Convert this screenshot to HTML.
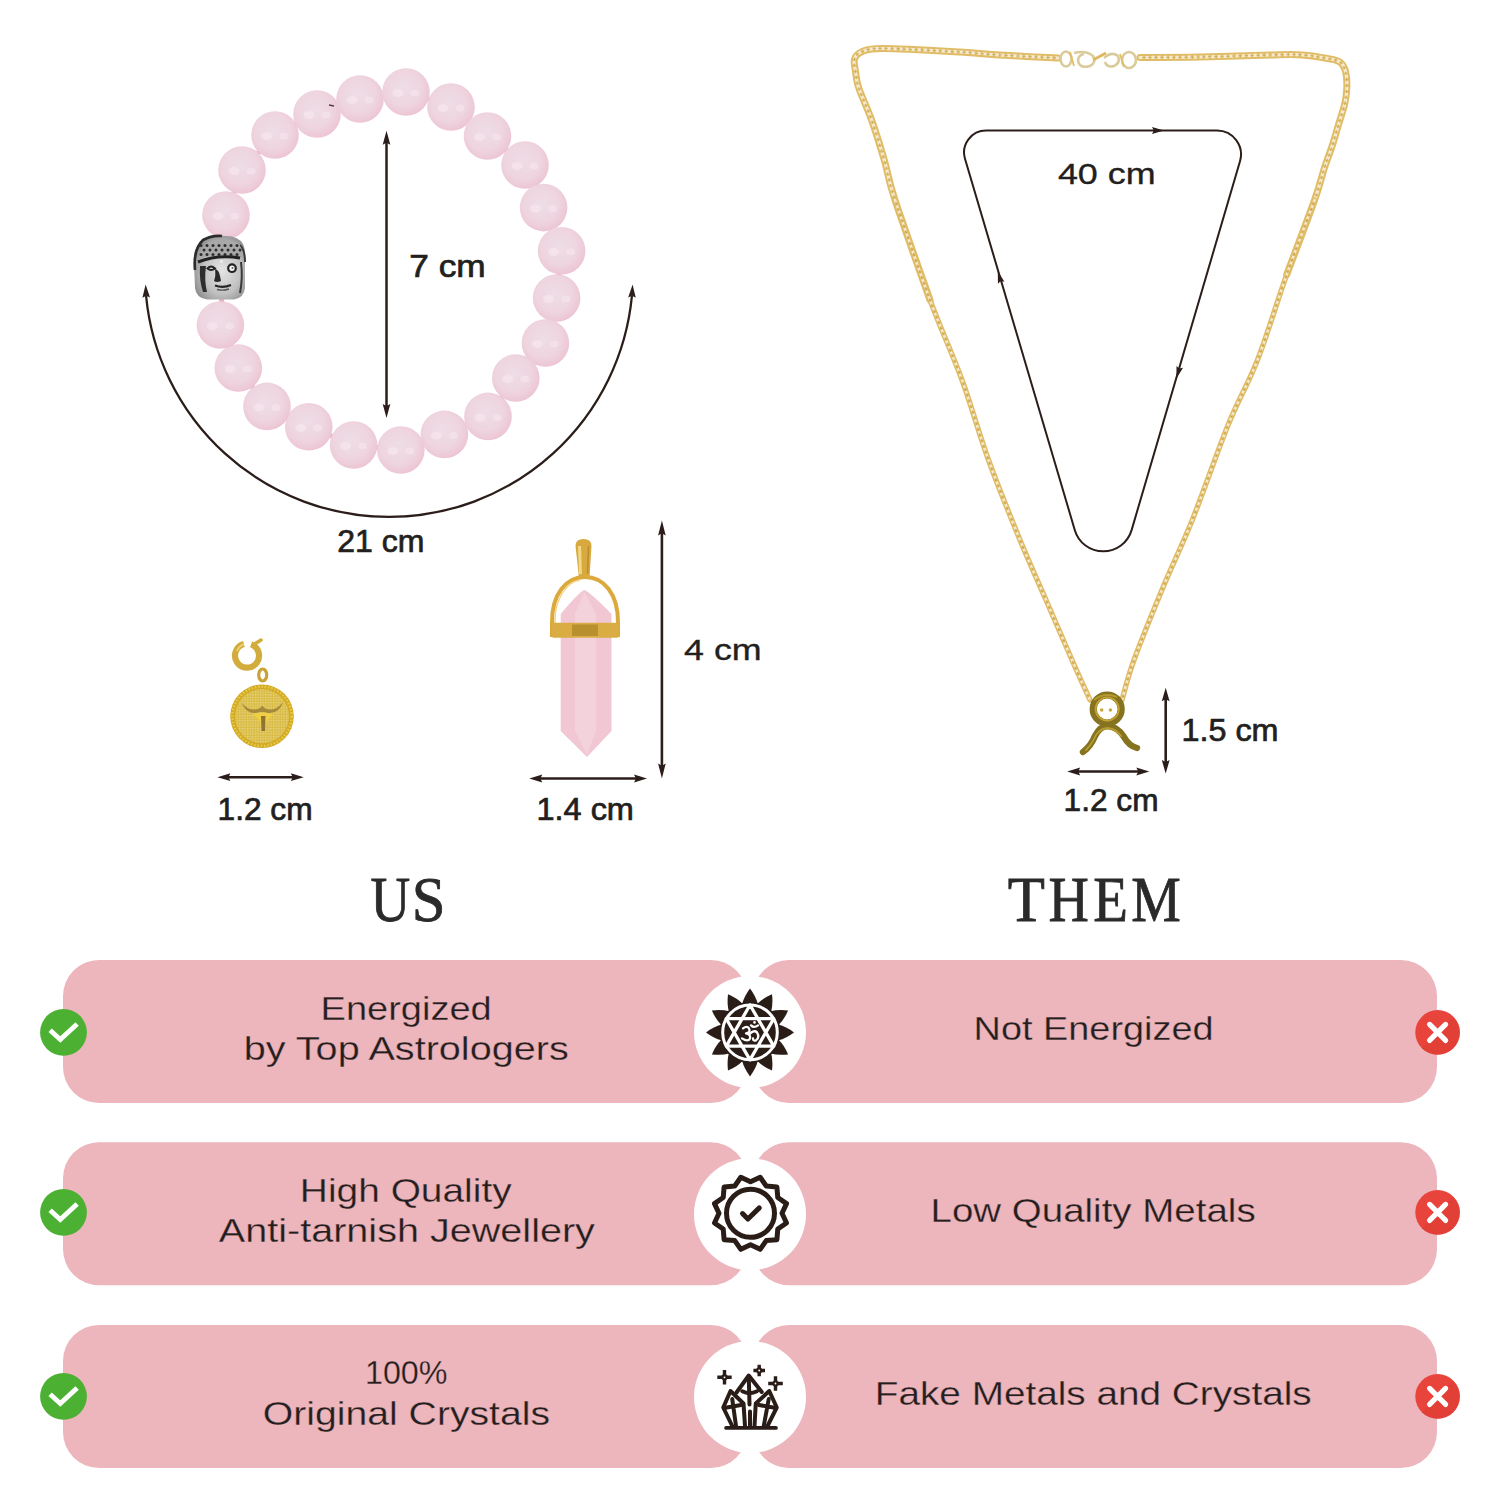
<!DOCTYPE html>
<html><head><meta charset="utf-8">
<style>
html,body{margin:0;padding:0;background:#fff;}
body{width:1500px;height:1500px;position:relative;overflow:hidden;font-family:"Liberation Sans",sans-serif;}
svg{position:absolute;left:0;top:0;}
</style></head><body>
<svg width="1500" height="1500" viewBox="0 0 1500 1500">
<defs>
<radialGradient id="bead" cx="45%" cy="42%" r="62%">
<stop offset="0" stop-color="#EEDDE6"/>
<stop offset="0.6" stop-color="#EED5E0"/>
<stop offset="0.9" stop-color="#EDC7D6"/>
<stop offset="1" stop-color="#EABCCD"/>
</radialGradient>
</defs>
<path d="M226,215 L242,170 L275,135 L317,114 L360,99 L406,92 L451,107 L487.5,136 L525,165 L543.6,207.6 L561.6,250.8 L556.6,298 L545.4,343 L515.8,378 L488,416.4 L444.4,434.4 L400.8,450 L353.6,445 L308.8,426.8 L267,406.4 L238.3,368 L220.4,325 Z" fill="none" stroke="#E9AFC5" stroke-width="5"/>
<circle cx="226" cy="215" r="23.8" fill="url(#bead)"/>
<ellipse cx="218" cy="216" rx="5.5" ry="4" fill="#F6E6EE" opacity="0.75"/>
<ellipse cx="235" cy="216" rx="4.5" ry="3.5" fill="#F6E6EE" opacity="0.6"/>
<circle cx="242" cy="170" r="23.8" fill="url(#bead)"/>
<ellipse cx="234" cy="171" rx="5.5" ry="4" fill="#F6E6EE" opacity="0.75"/>
<ellipse cx="251" cy="171" rx="4.5" ry="3.5" fill="#F6E6EE" opacity="0.6"/>
<circle cx="275" cy="135" r="23.8" fill="url(#bead)"/>
<ellipse cx="267" cy="136" rx="5.5" ry="4" fill="#F6E6EE" opacity="0.75"/>
<ellipse cx="284" cy="136" rx="4.5" ry="3.5" fill="#F6E6EE" opacity="0.6"/>
<circle cx="317" cy="114" r="23.8" fill="url(#bead)"/>
<ellipse cx="309" cy="115" rx="5.5" ry="4" fill="#F6E6EE" opacity="0.75"/>
<ellipse cx="326" cy="115" rx="4.5" ry="3.5" fill="#F6E6EE" opacity="0.6"/>
<circle cx="360" cy="99" r="23.8" fill="url(#bead)"/>
<ellipse cx="352" cy="100" rx="5.5" ry="4" fill="#F6E6EE" opacity="0.75"/>
<ellipse cx="369" cy="100" rx="4.5" ry="3.5" fill="#F6E6EE" opacity="0.6"/>
<circle cx="406" cy="92" r="23.8" fill="url(#bead)"/>
<ellipse cx="398" cy="93" rx="5.5" ry="4" fill="#F6E6EE" opacity="0.75"/>
<ellipse cx="415" cy="93" rx="4.5" ry="3.5" fill="#F6E6EE" opacity="0.6"/>
<circle cx="451" cy="107" r="23.8" fill="url(#bead)"/>
<ellipse cx="443" cy="108" rx="5.5" ry="4" fill="#F6E6EE" opacity="0.75"/>
<ellipse cx="460" cy="108" rx="4.5" ry="3.5" fill="#F6E6EE" opacity="0.6"/>
<circle cx="487.5" cy="136" r="23.8" fill="url(#bead)"/>
<ellipse cx="479.5" cy="137" rx="5.5" ry="4" fill="#F6E6EE" opacity="0.75"/>
<ellipse cx="496.5" cy="137" rx="4.5" ry="3.5" fill="#F6E6EE" opacity="0.6"/>
<circle cx="525" cy="165" r="23.8" fill="url(#bead)"/>
<ellipse cx="517" cy="166" rx="5.5" ry="4" fill="#F6E6EE" opacity="0.75"/>
<ellipse cx="534" cy="166" rx="4.5" ry="3.5" fill="#F6E6EE" opacity="0.6"/>
<circle cx="543.6" cy="207.6" r="23.8" fill="url(#bead)"/>
<ellipse cx="535.6" cy="208.6" rx="5.5" ry="4" fill="#F6E6EE" opacity="0.75"/>
<ellipse cx="552.6" cy="208.6" rx="4.5" ry="3.5" fill="#F6E6EE" opacity="0.6"/>
<circle cx="561.6" cy="250.8" r="23.8" fill="url(#bead)"/>
<ellipse cx="553.6" cy="251.8" rx="5.5" ry="4" fill="#F6E6EE" opacity="0.75"/>
<ellipse cx="570.6" cy="251.8" rx="4.5" ry="3.5" fill="#F6E6EE" opacity="0.6"/>
<circle cx="556.6" cy="298" r="23.8" fill="url(#bead)"/>
<ellipse cx="548.6" cy="299" rx="5.5" ry="4" fill="#F6E6EE" opacity="0.75"/>
<ellipse cx="565.6" cy="299" rx="4.5" ry="3.5" fill="#F6E6EE" opacity="0.6"/>
<circle cx="545.4" cy="343" r="23.8" fill="url(#bead)"/>
<ellipse cx="537.4" cy="344" rx="5.5" ry="4" fill="#F6E6EE" opacity="0.75"/>
<ellipse cx="554.4" cy="344" rx="4.5" ry="3.5" fill="#F6E6EE" opacity="0.6"/>
<circle cx="515.8" cy="378" r="23.8" fill="url(#bead)"/>
<ellipse cx="507.8" cy="379" rx="5.5" ry="4" fill="#F6E6EE" opacity="0.75"/>
<ellipse cx="524.8" cy="379" rx="4.5" ry="3.5" fill="#F6E6EE" opacity="0.6"/>
<circle cx="488" cy="416.4" r="23.8" fill="url(#bead)"/>
<ellipse cx="480" cy="417.4" rx="5.5" ry="4" fill="#F6E6EE" opacity="0.75"/>
<ellipse cx="497" cy="417.4" rx="4.5" ry="3.5" fill="#F6E6EE" opacity="0.6"/>
<circle cx="444.4" cy="434.4" r="23.8" fill="url(#bead)"/>
<ellipse cx="436.4" cy="435.4" rx="5.5" ry="4" fill="#F6E6EE" opacity="0.75"/>
<ellipse cx="453.4" cy="435.4" rx="4.5" ry="3.5" fill="#F6E6EE" opacity="0.6"/>
<circle cx="400.8" cy="450" r="23.8" fill="url(#bead)"/>
<ellipse cx="392.8" cy="451" rx="5.5" ry="4" fill="#F6E6EE" opacity="0.75"/>
<ellipse cx="409.8" cy="451" rx="4.5" ry="3.5" fill="#F6E6EE" opacity="0.6"/>
<circle cx="353.6" cy="445" r="23.8" fill="url(#bead)"/>
<ellipse cx="345.6" cy="446" rx="5.5" ry="4" fill="#F6E6EE" opacity="0.75"/>
<ellipse cx="362.6" cy="446" rx="4.5" ry="3.5" fill="#F6E6EE" opacity="0.6"/>
<circle cx="308.8" cy="426.8" r="23.8" fill="url(#bead)"/>
<ellipse cx="300.8" cy="427.8" rx="5.5" ry="4" fill="#F6E6EE" opacity="0.75"/>
<ellipse cx="317.8" cy="427.8" rx="4.5" ry="3.5" fill="#F6E6EE" opacity="0.6"/>
<circle cx="267" cy="406.4" r="23.8" fill="url(#bead)"/>
<ellipse cx="259" cy="407.4" rx="5.5" ry="4" fill="#F6E6EE" opacity="0.75"/>
<ellipse cx="276" cy="407.4" rx="4.5" ry="3.5" fill="#F6E6EE" opacity="0.6"/>
<circle cx="238.3" cy="368" r="23.8" fill="url(#bead)"/>
<ellipse cx="230.3" cy="369" rx="5.5" ry="4" fill="#F6E6EE" opacity="0.75"/>
<ellipse cx="247.3" cy="369" rx="4.5" ry="3.5" fill="#F6E6EE" opacity="0.6"/>
<circle cx="220.4" cy="325" r="23.8" fill="url(#bead)"/>
<ellipse cx="212.4" cy="326" rx="5.5" ry="4" fill="#F6E6EE" opacity="0.75"/>
<ellipse cx="229.4" cy="326" rx="4.5" ry="3.5" fill="#F6E6EE" opacity="0.6"/>
<g><defs><radialGradient id="silv" cx="55%" cy="55%" r="60%"><stop offset="0" stop-color="#E4E4E4"/><stop offset="0.6" stop-color="#C2C2C2"/><stop offset="1" stop-color="#8E8E8E"/></radialGradient></defs><path d="M194,262 Q193,246 203,239 Q214,234 226,236 Q238,236 243,244 Q246,250 245,262 L245,288 Q244,298 234,299.5 L207,299.5 Q196,298 195,288 Z" fill="url(#silv)"/><path d="M195,270 Q193,250 203,240 Q212,235 222,236" fill="none" stroke="#2B2B2B" stroke-width="2.6"/><path d="M240,245 Q245,250 245,262" fill="none" stroke="#3A3A3A" stroke-width="2"/><path d="M198,259 Q202,243 214,240 Q228,238 238,243 Q243,249 243,258 Q222,252 198,259 Z" fill="#A8A8A8"/><circle cx="201" cy="245.5" r="1.5" fill="#2E2E2E"/><circle cx="207" cy="245.5" r="1.5" fill="#2E2E2E"/><circle cx="213" cy="245.5" r="1.5" fill="#2E2E2E"/><circle cx="219" cy="245.5" r="1.5" fill="#2E2E2E"/><circle cx="225" cy="245.5" r="1.5" fill="#2E2E2E"/><circle cx="231" cy="245.5" r="1.5" fill="#2E2E2E"/><circle cx="237" cy="245.5" r="1.5" fill="#2E2E2E"/><circle cx="204" cy="250" r="1.5" fill="#2E2E2E"/><circle cx="210" cy="250" r="1.5" fill="#2E2E2E"/><circle cx="216" cy="250" r="1.5" fill="#2E2E2E"/><circle cx="222" cy="250" r="1.5" fill="#2E2E2E"/><circle cx="228" cy="250" r="1.5" fill="#2E2E2E"/><circle cx="234" cy="250" r="1.5" fill="#2E2E2E"/><circle cx="240" cy="250" r="1.5" fill="#2E2E2E"/><circle cx="201" cy="254.5" r="1.5" fill="#2E2E2E"/><circle cx="207" cy="254.5" r="1.5" fill="#2E2E2E"/><circle cx="213" cy="254.5" r="1.5" fill="#2E2E2E"/><circle cx="219" cy="254.5" r="1.5" fill="#2E2E2E"/><circle cx="225" cy="254.5" r="1.5" fill="#2E2E2E"/><circle cx="231" cy="254.5" r="1.5" fill="#2E2E2E"/><circle cx="237" cy="254.5" r="1.5" fill="#2E2E2E"/><path d="M198,262 Q218,254 240,258" fill="none" stroke="#222" stroke-width="3"/><path d="M200,266 Q199,280 203,292 L207,292 Q204,280 206,266 Z" fill="#2E2E2E"/><path d="M241,262 Q243,278 240,293" fill="none" stroke="#3A3A3A" stroke-width="2"/><path d="M207.5,268.5 Q211,264.5 215,268.5 Q211,271.5 207.5,268.5 Z" fill="#D8D8D8" stroke="#222" stroke-width="2"/><circle cx="232" cy="268.2" r="3.8" fill="#F4F4F4" stroke="#222" stroke-width="2.2"/><circle cx="232.5" cy="268" r="1" fill="#666"/><path d="M215,269 Q219,270 220,276 L221,281 Q217,283 214,281 Q216,276 215,269 Z" fill="#2A2A2A"/><path d="M215,285.5 Q223,288.5 231,285" fill="none" stroke="#262626" stroke-width="2.2"/><path d="M217,289.5 Q223,291 229,289" fill="none" stroke="#555" stroke-width="1.4"/><circle cx="221.5" cy="261.5" r="1.4" fill="#EEE"/></g>
<path d="M329,105 L334,106" stroke="#5A3A40" stroke-width="1.4"/>
<line x1="386.5" y1="140.6" x2="386.5" y2="408.2" stroke="#2B1E1A" stroke-width="2.5"/><path d="M386.5,418 L382.7,404 L386.5,406.1 L390.3,404 Z" fill="#2B1E1A"/><path d="M386.5,130.8 L390.3,144.8 L386.5,142.7 L382.7,144.8 Z" fill="#2B1E1A"/>
<path d="M146.1,296 A244,244 0 0 0 631.9,296" fill="none" stroke="#2B1E1A" stroke-width="2.3"/>
<path d="M145.6,284.6 L150.04,297.39 L146.15,295.64 L142.45,297.77 Z" fill="#2B1E1A"/>
<path d="M632.6,284.6 L635.75,297.77 L632.05,295.64 L628.16,297.39 Z" fill="#2B1E1A"/>
<g><path d="M243.9,644.1 A12,12 0 1 0 251.1,644.4" fill="none" stroke="#D2AC3C" stroke-width="6.2"/><path d="M243.9,644.1 A12,12 0 0 0 237,651" fill="none" stroke="#EBD17A" stroke-width="2"/><path d="M253,645 L261,640" stroke="#D2AC3C" stroke-width="3.5" stroke-linecap="round"/><ellipse cx="262.7" cy="675" rx="4" ry="6" fill="none" stroke="#C9A238" stroke-width="3.2"/><defs><pattern id="cgrid" width="2.6" height="2.6" patternUnits="userSpaceOnUse"><rect width="2.6" height="2.6" fill="#D9BC45"/><rect width="1.3" height="1.3" fill="#EAD688"/></pattern></defs><circle cx="262" cy="716.3" r="31.8" fill="#D2AA25"/><circle cx="262" cy="716.3" r="29.6" fill="none" stroke="#E9C948" stroke-width="2.4" stroke-dasharray="1.6 1.7"/><circle cx="262" cy="716.3" r="27" fill="url(#cgrid)"/><path d="M241.5,702.5 Q250,713 260,708 L262.3,705.8 L264.5,708 Q275,713 283.5,701.5 Q279,714 268,713 Q262,711 256,713 Q246,714 241.5,702.5 Z" fill="#A48A3A"/><path d="M252,715 Q257,716 260,722 L262,731 L265,731 L267,722 Q270,716 274,715 Q266,712 262,713 Q258,712 252,715 Z" fill="#F0CF45"/><path d="M261,716 L261.5,731 L265,731 L265.5,716 Z" fill="#8E7430"/></g>
<line x1="226.5" y1="777.2" x2="294.7" y2="777.2" stroke="#2B1E1A" stroke-width="2.6"/><path d="M303.8,777.2 L290.8,781.1 L292.75,777.2 L290.8,773.3 Z" fill="#2B1E1A"/><path d="M217.4,777.2 L230.4,773.3 L228.45,777.2 L230.4,781.1 Z" fill="#2B1E1A"/>
<g><path d="M584.4,590 Q590,592 611.5,614 L611.5,731 L587,757 L560.7,731 L560.7,614 Q579,592 584.4,590 Z" fill="#F0C7D2"/><path d="M584.4,592 L596,614 L596,731 L587,755 L575,731 L575,614 Z" fill="#F4D3DD" opacity="0.9"/><path d="M575.5,546 Q575.5,539 583.5,539 Q591.5,539 591.5,546 L589.5,578 L579,578 Z" fill="#D7A93E"/><path d="M580.5,574 L579.5,546" stroke="#F2D785" stroke-width="3"/><path d="M587.5,574 L588.5,546" stroke="#B98E2C" stroke-width="1.5"/><path d="M552,637 L552,622 C552,594 566,577 585,577 C604,577 618,594 618,622 L618,637" fill="none" stroke="#DCAA3C" stroke-width="4"/><path d="M555,630 L555,620 C555,600 566,582 580,580" fill="none" stroke="#F1D27E" stroke-width="1.4"/><rect x="551.7" y="622.7" width="67.3" height="15" rx="2" fill="#D9AD43"/><rect x="572" y="624.5" width="26" height="11.5" fill="#B8902E"/></g>
<line x1="538.4" y1="778.5" x2="637.9" y2="778.5" stroke="#2B1E1A" stroke-width="2.6"/><path d="M647,778.5 L634,782.4 L635.95,778.5 L634,774.6 Z" fill="#2B1E1A"/><path d="M529.3,778.5 L542.3,774.6 L540.35,778.5 L542.3,782.4 Z" fill="#2B1E1A"/>
<line x1="661.9" y1="531" x2="661.9" y2="768" stroke="#2B1E1A" stroke-width="2.6"/><path d="M661.9,778.5 L658.1,763.5 L661.9,765.75 L665.7,763.5 Z" fill="#2B1E1A"/><path d="M661.9,520.5 L665.7,535.5 L661.9,533.25 L658.1,535.5 Z" fill="#2B1E1A"/>
<path d="M1058,58 C1048.33,57.5 1016.33,56 1000,55 C983.67,54 979.5,53.08 960,52 C940.5,50.92 899.33,48.55 883,48.5 C866.67,48.45 866.75,49.92 862,51.7 C857.25,53.48 855.57,55.82 854.5,59.2 C853.43,62.58 854.88,67.2 855.6,72 C856.32,76.8 856.13,80 858.8,88 C861.47,96 867.33,107.92 871.6,120 C875.87,132.08 880.5,147.17 884.4,160.5 C888.3,173.83 887.4,176.75 895,200 C902.6,223.25 924.17,283.33 930,300" fill="none" stroke="#E0BC66" stroke-width="7" stroke-linecap="round"/><path d="M1058,58 C1048.33,57.5 1016.33,56 1000,55 C983.67,54 979.5,53.08 960,52 C940.5,50.92 899.33,48.55 883,48.5 C866.67,48.45 866.75,49.92 862,51.7 C857.25,53.48 855.57,55.82 854.5,59.2 C853.43,62.58 854.88,67.2 855.6,72 C856.32,76.8 856.13,80 858.8,88 C861.47,96 867.33,107.92 871.6,120 C875.87,132.08 880.5,147.17 884.4,160.5 C888.3,173.83 887.4,176.75 895,200 C902.6,223.25 924.17,283.33 930,300" fill="none" stroke="#F5EACD" stroke-width="3.15" stroke-dasharray="2.5 3.5" stroke-linecap="round"/><path d="M1058,58 C1048.33,57.5 1016.33,56 1000,55 C983.67,54 979.5,53.08 960,52 C940.5,50.92 899.33,48.55 883,48.5 C866.67,48.45 866.75,49.92 862,51.7 C857.25,53.48 855.57,55.82 854.5,59.2 C853.43,62.58 854.88,67.2 855.6,72 C856.32,76.8 856.13,80 858.8,88 C861.47,96 867.33,107.92 871.6,120 C875.87,132.08 880.5,147.17 884.4,160.5 C888.3,173.83 887.4,176.75 895,200 C902.6,223.25 924.17,283.33 930,300" fill="none" stroke="#C99C3E" stroke-width="1.6" stroke-dasharray="2 4" stroke-dashoffset="3" stroke-linecap="round" opacity="0.7"/><path d="M1140,57.5 C1150,57.42 1178.33,57.42 1200,57 C1221.67,56.58 1253,55.35 1270,55 C1287,54.65 1292.22,54.28 1302,54.9 C1311.78,55.52 1322.3,57.45 1328.7,58.7 C1335.1,59.95 1337.57,60.18 1340.4,62.4 C1343.23,64.62 1344.63,67.73 1345.7,72 C1346.77,76.27 1346.97,82.67 1346.8,88 C1346.63,93.33 1346.12,97.78 1344.7,104 C1343.28,110.22 1340.43,118.18 1338.3,125.3 C1336.17,132.42 1334.22,139.58 1331.9,146.7 C1329.58,153.82 1327.28,159.12 1324.4,168 C1321.52,176.88 1320.88,182.22 1314.6,200 C1308.32,217.78 1291.35,262.25 1286.7,274.7" fill="none" stroke="#E0BC66" stroke-width="7" stroke-linecap="round"/><path d="M1140,57.5 C1150,57.42 1178.33,57.42 1200,57 C1221.67,56.58 1253,55.35 1270,55 C1287,54.65 1292.22,54.28 1302,54.9 C1311.78,55.52 1322.3,57.45 1328.7,58.7 C1335.1,59.95 1337.57,60.18 1340.4,62.4 C1343.23,64.62 1344.63,67.73 1345.7,72 C1346.77,76.27 1346.97,82.67 1346.8,88 C1346.63,93.33 1346.12,97.78 1344.7,104 C1343.28,110.22 1340.43,118.18 1338.3,125.3 C1336.17,132.42 1334.22,139.58 1331.9,146.7 C1329.58,153.82 1327.28,159.12 1324.4,168 C1321.52,176.88 1320.88,182.22 1314.6,200 C1308.32,217.78 1291.35,262.25 1286.7,274.7" fill="none" stroke="#F5EACD" stroke-width="3.15" stroke-dasharray="2.5 3.5" stroke-linecap="round"/><path d="M1140,57.5 C1150,57.42 1178.33,57.42 1200,57 C1221.67,56.58 1253,55.35 1270,55 C1287,54.65 1292.22,54.28 1302,54.9 C1311.78,55.52 1322.3,57.45 1328.7,58.7 C1335.1,59.95 1337.57,60.18 1340.4,62.4 C1343.23,64.62 1344.63,67.73 1345.7,72 C1346.77,76.27 1346.97,82.67 1346.8,88 C1346.63,93.33 1346.12,97.78 1344.7,104 C1343.28,110.22 1340.43,118.18 1338.3,125.3 C1336.17,132.42 1334.22,139.58 1331.9,146.7 C1329.58,153.82 1327.28,159.12 1324.4,168 C1321.52,176.88 1320.88,182.22 1314.6,200 C1308.32,217.78 1291.35,262.25 1286.7,274.7" fill="none" stroke="#C99C3E" stroke-width="1.6" stroke-dasharray="2 4" stroke-dashoffset="3" stroke-linecap="round" opacity="0.7"/><path d="M895,200 C900.83,216.67 918.83,270 930,300 C941.17,330 952.25,353.33 962,380 C971.75,406.67 978.83,433.33 988.5,460 C998.17,486.67 1010.42,516.67 1020,540 C1029.58,563.33 1037.33,580 1046,600 C1054.67,620 1064.67,643.33 1072,660 C1079.33,676.67 1087,693.33 1090,700" fill="none" stroke="#E0BC66" stroke-width="5.4" stroke-linecap="round"/><path d="M895,200 C900.83,216.67 918.83,270 930,300 C941.17,330 952.25,353.33 962,380 C971.75,406.67 978.83,433.33 988.5,460 C998.17,486.67 1010.42,516.67 1020,540 C1029.58,563.33 1037.33,580 1046,600 C1054.67,620 1064.67,643.33 1072,660 C1079.33,676.67 1087,693.33 1090,700" fill="none" stroke="#F5EACD" stroke-width="2.43" stroke-dasharray="2.5 3.5" stroke-linecap="round"/><path d="M895,200 C900.83,216.67 918.83,270 930,300 C941.17,330 952.25,353.33 962,380 C971.75,406.67 978.83,433.33 988.5,460 C998.17,486.67 1010.42,516.67 1020,540 C1029.58,563.33 1037.33,580 1046,600 C1054.67,620 1064.67,643.33 1072,660 C1079.33,676.67 1087,693.33 1090,700" fill="none" stroke="#C99C3E" stroke-width="1.6" stroke-dasharray="2 4" stroke-dashoffset="3" stroke-linecap="round" opacity="0.7"/><path d="M1314.6,200 C1309.95,212.45 1296.22,248.03 1286.7,274.7 C1277.18,301.37 1267.2,335.12 1257.5,360 C1247.8,384.88 1239.37,397.33 1228.5,424 C1217.63,450.67 1203.05,493.17 1192.3,520 C1181.55,546.83 1173.72,561.67 1164,585 C1154.28,608.33 1141,640.83 1134,660 C1127,679.17 1124,693.33 1122,700" fill="none" stroke="#E0BC66" stroke-width="5.4" stroke-linecap="round"/><path d="M1314.6,200 C1309.95,212.45 1296.22,248.03 1286.7,274.7 C1277.18,301.37 1267.2,335.12 1257.5,360 C1247.8,384.88 1239.37,397.33 1228.5,424 C1217.63,450.67 1203.05,493.17 1192.3,520 C1181.55,546.83 1173.72,561.67 1164,585 C1154.28,608.33 1141,640.83 1134,660 C1127,679.17 1124,693.33 1122,700" fill="none" stroke="#F5EACD" stroke-width="2.43" stroke-dasharray="2.5 3.5" stroke-linecap="round"/><path d="M1314.6,200 C1309.95,212.45 1296.22,248.03 1286.7,274.7 C1277.18,301.37 1267.2,335.12 1257.5,360 C1247.8,384.88 1239.37,397.33 1228.5,424 C1217.63,450.67 1203.05,493.17 1192.3,520 C1181.55,546.83 1173.72,561.67 1164,585 C1154.28,608.33 1141,640.83 1134,660 C1127,679.17 1124,693.33 1122,700" fill="none" stroke="#C99C3E" stroke-width="1.6" stroke-dasharray="2 4" stroke-dashoffset="3" stroke-linecap="round" opacity="0.7"/><g fill="none" stroke="#D9CC9A" stroke-width="2.6"><ellipse cx="1066" cy="59" rx="5.5" ry="7.5"/><ellipse cx="1129" cy="60" rx="7" ry="8"/><path d="M1074,53 Q1086,50 1093,56 Q1097,62 1090,66 Q1080,69 1078,61 Q1078,55 1084,54"/><path d="M1104,58 Q1112,51 1118,56 Q1121,63 1114,66 Q1107,68 1105,62"/></g><path d="M1093,60 L1106,53" stroke="#E0B75A" stroke-width="2.6"/><path d="M1070,52 L1074,66 M1120,54 L1124,67" stroke="#E3BE62" stroke-width="1.8"/>
<path d="M986.09,130.5 L1216.98,130.5 A24,24 0 0 1 1240,161.27 L1131.6,530.11 A29.6,29.6 0 0 1 1074.82,530.16 L964.99,158.74 A22,22 0 0 1 986.09,130.5 Z" fill="none" stroke="#2B1E1A" stroke-width="2"/><path d="M1164,130.5 L1152,133.9 L1153.8,130.5 L1152,127.1 Z" fill="#2B1E1A"/><path d="M997.8,271.2 L1004.46,281.74 L1000.69,280.98 L997.94,283.67 Z" fill="#2B1E1A"/><path d="M1176.4,378.4 L1176.52,365.93 L1179.28,368.61 L1183.05,367.85 Z" fill="#2B1E1A"/>
<g><circle cx="1107.2" cy="709" r="14" fill="none" stroke="#85731F" stroke-width="7.2"/><circle cx="1107.2" cy="709" r="11.6" fill="none" stroke="#C2A334" stroke-width="1.8"/><path d="M1094,700 Q1104,692 1117,697" fill="none" stroke="#B59A30" stroke-width="2"/><circle cx="1101.7" cy="710" r="1.8" fill="#C9A93A"/><circle cx="1110.4" cy="710" r="1.8" fill="#C9A93A"/><path d="M1083,752 Q1091,746 1095,736 Q1100,726 1108,726 Q1118,727 1124,737 Q1129,746 1137,748" fill="none" stroke="#85731F" stroke-width="6.4" stroke-linecap="round"/><path d="M1086,750 Q1092,744 1096,735 Q1101,728 1108,728 Q1116,729 1121,736" fill="none" stroke="#B99D32" stroke-width="1.8" stroke-linecap="round"/></g>
<line x1="1076.3" y1="771.5" x2="1140.2" y2="771.5" stroke="#2B1E1A" stroke-width="2.6"/><path d="M1149.3,771.5 L1136.3,775.4 L1138.25,771.5 L1136.3,767.6 Z" fill="#2B1E1A"/><path d="M1067.2,771.5 L1080.2,767.6 L1078.25,771.5 L1080.2,775.4 Z" fill="#2B1E1A"/>
<line x1="1165.7" y1="697.15" x2="1165.7" y2="764.15" stroke="#2B1E1A" stroke-width="2.6"/><path d="M1165.7,773.6 L1161.8,760.1 L1165.7,762.12 L1169.6,760.1 Z" fill="#2B1E1A"/><path d="M1165.7,687.7 L1169.6,701.2 L1165.7,699.18 L1161.8,701.2 Z" fill="#2B1E1A"/>
<g fill="#EDB5BC"><rect x="63" y="960" width="684" height="143" rx="36"/><rect x="753" y="960" width="684" height="143" rx="36"/><rect x="63" y="1142.2" width="684" height="143" rx="36"/><rect x="753" y="1142.2" width="684" height="143" rx="36"/><rect x="63" y="1325" width="684" height="143" rx="36"/><rect x="753" y="1325" width="684" height="143" rx="36"/></g><g fill="#fff"><circle cx="750" cy="1032" r="56"/><circle cx="750" cy="1214.2" r="56"/><circle cx="750" cy="1397" r="56"/></g><circle cx="63.5" cy="1032.4" r="23.4" fill="#4CB132"/><path d="M50.1,1030.2 L60.3,1039.6 L77.1,1023.9" fill="none" stroke="#fff" stroke-width="4.8"/><circle cx="1437.6" cy="1032.4" r="22.3" fill="#E9443B"/><path d="M1453.37,1016.63 A22.3,22.3 0 0 1 1421.83,1048.17 Z" fill="#DC3932" opacity="0.5"/><path d="M1429.6,1024.4 L1445.6,1040.4 M1445.6,1024.4 L1429.6,1040.4" fill="none" stroke="#fff" stroke-width="5.2" stroke-linecap="round"/><circle cx="63.5" cy="1212.4" r="23.4" fill="#4CB132"/><path d="M50.1,1210.2 L60.3,1219.6 L77.1,1203.9" fill="none" stroke="#fff" stroke-width="4.8"/><circle cx="1437.6" cy="1212.4" r="22.3" fill="#E9443B"/><path d="M1453.37,1196.63 A22.3,22.3 0 0 1 1421.83,1228.17 Z" fill="#DC3932" opacity="0.5"/><path d="M1429.6,1204.4 L1445.6,1220.4 M1445.6,1204.4 L1429.6,1220.4" fill="none" stroke="#fff" stroke-width="5.2" stroke-linecap="round"/><circle cx="63.5" cy="1396.4" r="23.4" fill="#4CB132"/><path d="M50.1,1394.2 L60.3,1403.6 L77.1,1387.9" fill="none" stroke="#fff" stroke-width="4.8"/><circle cx="1437.6" cy="1396.4" r="22.3" fill="#E9443B"/><path d="M1453.37,1380.63 A22.3,22.3 0 0 1 1421.83,1412.17 Z" fill="#DC3932" opacity="0.5"/><path d="M1429.6,1388.4 L1445.6,1404.4 M1445.6,1388.4 L1429.6,1404.4" fill="none" stroke="#fff" stroke-width="5.2" stroke-linecap="round"/>
<g fill="#2A1D18"><path d="M742.12,1003.97 Q743.98,996.4 750,988.4 Q756.02,996.4 757.88,1003.97 Z"/><path d="M757.39,1003.84 Q762.78,998.21 772,994.29 Q773.22,1004.24 771.04,1011.72 Z"/><path d="M770.68,1011.36 Q778.16,1009.18 788.11,1010.4 Q784.19,1019.62 778.56,1025.01 Z"/><path d="M778.43,1024.52 Q786,1026.38 794,1032.4 Q786,1038.42 778.43,1040.28 Z"/><path d="M778.56,1039.79 Q784.19,1045.18 788.11,1054.4 Q778.16,1055.62 770.68,1053.44 Z"/><path d="M771.04,1053.08 Q773.22,1060.56 772,1070.51 Q762.78,1066.59 757.39,1060.96 Z"/><path d="M757.88,1060.83 Q756.02,1068.4 750,1076.4 Q743.98,1068.4 742.12,1060.83 Z"/><path d="M742.61,1060.96 Q737.22,1066.59 728,1070.51 Q726.78,1060.56 728.96,1053.08 Z"/><path d="M729.32,1053.44 Q721.84,1055.62 711.89,1054.4 Q715.81,1045.18 721.44,1039.79 Z"/><path d="M721.57,1040.28 Q714,1038.42 706,1032.4 Q714,1026.38 721.57,1024.52 Z"/><path d="M721.44,1025.01 Q715.81,1019.62 711.89,1010.4 Q721.84,1009.18 729.32,1011.36 Z"/><path d="M728.96,1011.72 Q726.78,1004.24 728,994.29 Q737.22,998.21 742.61,1003.84 Z"/><circle cx="750" cy="1032.4" r="30.5"/></g><circle cx="750" cy="1032.4" r="27.3" fill="none" stroke="#fff" stroke-width="3"/><path d="M750,1005 L773.73,1046.1 L726.27,1046.1 Z M750,1059.8 L726.27,1018.7 L773.73,1018.7 Z" fill="none" stroke="#fff" stroke-width="3.3" stroke-linejoin="round"/><g fill="none" stroke="#fff" stroke-width="2.3" stroke-linecap="round" stroke-linejoin="round"><path d="M743,1028.4 Q747,1025.4 749,1028.4 Q751,1032.4 746,1033.4 Q751,1034.4 750,1038.4 Q748,1042.4 742,1038.4"/><path d="M749,1034.4 Q754,1029.4 757,1032.4 Q760,1037.4 756,1040.4 Q753,1041.4 753,1038.4"/><path d="M751,1025.4 Q754,1028.4 758,1025.4"/></g><circle cx="754.5" cy="1022.4000000000001" r="1.3" fill="#fff"/>
<path d="M750.5,1181.8 L760.15,1177.27 L766.25,1186.02 L776.88,1186.92 L777.78,1197.55 L786.53,1203.65 L782,1213.3 L786.53,1222.95 L777.78,1229.05 L776.88,1239.68 L766.25,1240.58 L760.15,1249.33 L750.5,1244.8 L740.85,1249.33 L734.75,1240.58 L724.12,1239.68 L723.22,1229.05 L714.47,1222.95 L719,1213.3 L714.47,1203.65 L723.22,1197.55 L724.12,1186.92 L734.75,1186.02 L740.85,1177.27 Z" fill="none" stroke="#2A1D18" stroke-width="5" stroke-linejoin="round"/><circle cx="750.5" cy="1213.3" r="24" fill="none" stroke="#2A1D18" stroke-width="5"/><path d="M742.5,1213.6 L747.9,1219 L759.3,1207.9" fill="none" stroke="#2A1D18" stroke-width="5" stroke-linecap="round" stroke-linejoin="round"/>
<g fill="none" stroke="#2A1D18" stroke-width="4" stroke-linejoin="round" stroke-linecap="round"><path d="M736.5,1392.5 L748.75,1375.5 L761.75,1392"/><path d="M748.75,1376.5 L749.5,1404.5 M750,1411.5 L750,1426"/><path d="M742.25,1391.25 Q749.5,1395 757,1391.25"/><path d="M730.5,1391 L723.25,1407.5 L732.25,1426 M730.5,1391 L743.5,1403.5 L745,1426"/><path d="M724,1408 L741,1405 M732.25,1399 L736,1426"/><path d="M769.25,1391 L776.75,1407.5 L767.5,1426 M769.25,1391 L755.75,1403.5 L754.5,1426"/><path d="M776,1408 L759,1405 M768.75,1399 L763.75,1426"/></g><rect x="724.2" y="1426" width="53.6" height="3.8" rx="1.9" fill="#2A1D18"/><path d="M724.5,1370.1 L724.5,1384.5 M717.3,1377.3 L731.7,1377.3" stroke="#2A1D18" stroke-width="3.4"/><path d="M724.5,1372.82 L728.98,1377.3 L724.5,1381.78 L720.02,1377.3 Z" fill="#2A1D18"/><circle cx="724.5" cy="1377.3" r="0.9" fill="#fff"/><path d="M759.2,1364.7 L759.2,1376.3 M753.4,1370.5 L765,1370.5" stroke="#2A1D18" stroke-width="3.4"/><path d="M759.2,1366.02 L763.68,1370.5 L759.2,1374.98 L754.72,1370.5 Z" fill="#2A1D18"/><circle cx="759.2" cy="1370.5" r="0.9" fill="#fff"/><path d="M775.5,1376.2 L775.5,1390.8 M768.2,1383.5 L782.8,1383.5" stroke="#2A1D18" stroke-width="3.4"/><path d="M775.5,1379.02 L779.98,1383.5 L775.5,1387.98 L771.02,1383.5 Z" fill="#2A1D18"/><circle cx="775.5" cy="1383.5" r="0.9" fill="#fff"/>
<text x="370.6" y="920.7" font-family="Liberation Serif" font-size="63.5" fill="#2A2A2A" stroke="#2A2A2A" stroke-width="0.8" textLength="39.72" lengthAdjust="spacingAndGlyphs">U</text>
<text x="411.65" y="920.7" font-family="Liberation Serif" font-size="63.5" fill="#2A2A2A" stroke="#2A2A2A" stroke-width="0.8" textLength="33.76" lengthAdjust="spacingAndGlyphs">S</text>
<text x="1007.68" y="920.9" font-family="Liberation Serif" font-size="63.5" fill="#2A2A2A" stroke="#2A2A2A" stroke-width="0.8" textLength="37.18" lengthAdjust="spacingAndGlyphs">T</text>
<text x="1048.53" y="920.9" font-family="Liberation Serif" font-size="63.5" fill="#2A2A2A" stroke="#2A2A2A" stroke-width="0.8" textLength="40.29" lengthAdjust="spacingAndGlyphs">H</text>
<text x="1093.3" y="920.9" font-family="Liberation Serif" font-size="63.5" fill="#2A2A2A" stroke="#2A2A2A" stroke-width="0.8" textLength="34.69" lengthAdjust="spacingAndGlyphs">E</text>
<text x="1131.13" y="920.9" font-family="Liberation Serif" font-size="63.5" fill="#2A2A2A" stroke="#2A2A2A" stroke-width="0.8" textLength="49.5" lengthAdjust="spacingAndGlyphs">M</text>
<text x="320.56" y="1020.3" font-family="Liberation Sans" font-size="33" fill="#231F20" stroke="#EDB5BC" stroke-width="0.3" textLength="171.23" lengthAdjust="spacingAndGlyphs">Energized</text>
<text x="243.73" y="1060" font-family="Liberation Sans" font-size="33" fill="#231F20" stroke="#EDB5BC" stroke-width="0.3" textLength="325.0" lengthAdjust="spacingAndGlyphs">by Top Astrologers</text>
<text x="973.57" y="1040.1" font-family="Liberation Sans" font-size="33" fill="#231F20" stroke="#EDB5BC" stroke-width="0.3" textLength="239.96" lengthAdjust="spacingAndGlyphs">Not Energized</text>
<text x="299.89" y="1202" font-family="Liberation Sans" font-size="33" fill="#231F20" stroke="#EDB5BC" stroke-width="0.3" textLength="211.77" lengthAdjust="spacingAndGlyphs">High Quality</text>
<text x="218.8" y="1241.8" font-family="Liberation Sans" font-size="33" fill="#231F20" stroke="#EDB5BC" stroke-width="0.3" textLength="376.13" lengthAdjust="spacingAndGlyphs">Anti-tarnish Jewellery</text>
<text x="930.52" y="1222.3" font-family="Liberation Sans" font-size="33" fill="#231F20" stroke="#EDB5BC" stroke-width="0.3" textLength="325.13" lengthAdjust="spacingAndGlyphs">Low Quality Metals</text>
<text x="364.98" y="1384.2" font-family="Liberation Sans" font-size="33" fill="#231F20" stroke="#EDB5BC" stroke-width="0.3" textLength="82.54" lengthAdjust="spacingAndGlyphs">100%</text>
<text x="262.74" y="1425" font-family="Liberation Sans" font-size="33" fill="#231F20" stroke="#EDB5BC" stroke-width="0.3" textLength="287.33" lengthAdjust="spacingAndGlyphs">Original Crystals</text>
<text x="874.8" y="1404.8" font-family="Liberation Sans" font-size="33" fill="#231F20" stroke="#EDB5BC" stroke-width="0.3" textLength="436.92" lengthAdjust="spacingAndGlyphs">Fake Metals and Crystals</text>
<text x="409.24" y="276.7" font-family="Liberation Sans" font-size="30.5" fill="#231F20" stroke="#231F20" stroke-width="0.7" textLength="76.43" lengthAdjust="spacingAndGlyphs">7 cm</text>
<text x="337.2" y="551.6" font-family="Liberation Sans" font-size="30.5" fill="#231F20" stroke="#231F20" stroke-width="0.7" textLength="87.18" lengthAdjust="spacingAndGlyphs">21 cm</text>
<text x="684.1" y="659.7" font-family="Liberation Sans" font-size="30" fill="#231F20" stroke="#231F20" stroke-width="0.35" textLength="77.6" lengthAdjust="spacingAndGlyphs">4 cm</text>
<text x="536.46" y="819.9" font-family="Liberation Sans" font-size="30.5" fill="#231F20" stroke="#231F20" stroke-width="0.7" textLength="97.48" lengthAdjust="spacingAndGlyphs">1.4 cm</text>
<text x="217.52" y="819.9" font-family="Liberation Sans" font-size="30.5" fill="#231F20" stroke="#231F20" stroke-width="0.7" textLength="95.07" lengthAdjust="spacingAndGlyphs">1.2 cm</text>
<text x="1057.9" y="183.6" font-family="Liberation Sans" font-size="30" fill="#231F20" stroke="#231F20" stroke-width="0.35" textLength="97.75" lengthAdjust="spacingAndGlyphs">40 cm</text>
<text x="1181.47" y="740.8" font-family="Liberation Sans" font-size="30.5" fill="#231F20" stroke="#231F20" stroke-width="0.7" textLength="97.06" lengthAdjust="spacingAndGlyphs">1.5 cm</text>
<text x="1063.63" y="810.8" font-family="Liberation Sans" font-size="30.5" fill="#231F20" stroke="#231F20" stroke-width="0.7" textLength="94.86" lengthAdjust="spacingAndGlyphs">1.2 cm</text>

</svg>
</body></html>
